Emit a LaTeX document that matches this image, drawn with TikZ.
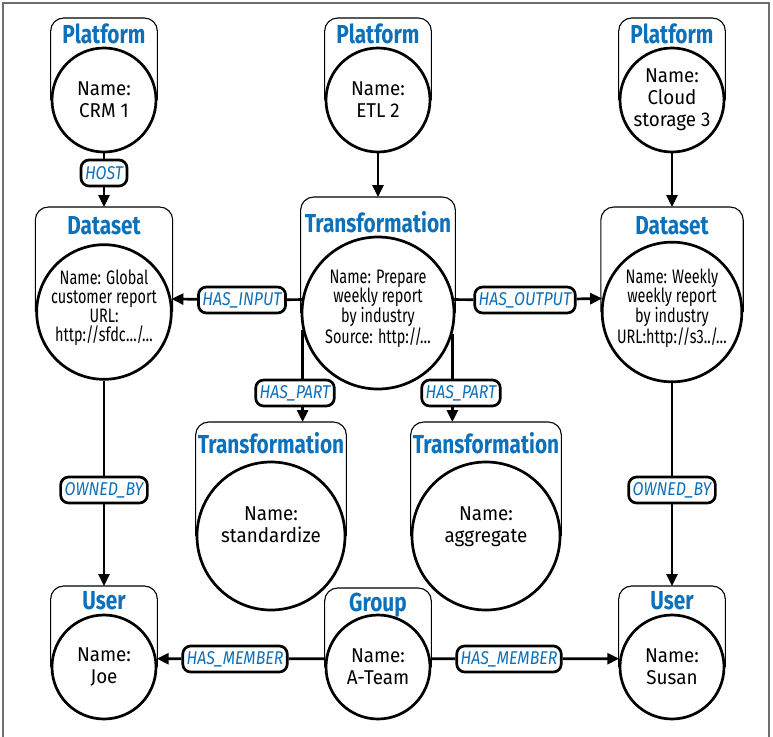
\documentclass[tikz,border=0pt]{standalone}
\usepackage{fontspec}
\setmainfont{Fira Sans}
\newfontfamily\namefont[FakeStretch=0.94]{Fira Sans}
\newfontfamily\infofont[FakeStretch=0.74]{Fira Sans}
\newfontfamily\headfont[FakeStretch=0.8]{Fira Sans}
\newfontfamily\relfont[FakeStretch=0.86]{Fira Sans}
\usetikzlibrary{arrows.meta}
\definecolor{kgblue}{RGB}{12,112,186}
\definecolor{framegray}{RGB}{110,110,110}

\begin{document}
\begin{tikzpicture}[x=1pt,y=-1pt,
    entity/.style={circle,draw,line width=2.7pt,fill=white,inner sep=0pt,align=center,font=\namefont\fontsize{20}{22}\selectfont},
    info/.style={entity,text depth=12pt,font=\infofont\fontsize{19.5}{19}\selectfont},
    card/.style={draw,line width=1.1pt,rounded corners=13pt},
    head/.style={anchor=base,text=kgblue,font=\headfont\bfseries\fontsize{26}{26}\selectfont},
    rel/.style={draw,line width=2.7pt,rounded corners=8pt,fill=white,text=kgblue,minimum height=26pt,inner xsep=4pt,inner ysep=0pt,font=\relfont\itshape\fontsize{18.5}{18.5}\selectfont},
    link/.style={line width=2.7pt},
    arr/.style={link,-{Triangle[length=12pt,width=11pt]}}]
					\useasboundingbox (0,0) rectangle (773,736);
					\draw[framegray,line width=1.2pt] (3,3) rectangle (769,760);
					% platforms
					\node[entity,minimum size=104pt] (crm) at (104,100) {Name:\\CRM 1};
					\node[entity,minimum size=104pt] (etl) at (378,100) {Name:\\ETL 2};
					\node[entity,minimum size=104pt] (cloud) at (672,100) {Name:\\Cloud\\storage 3};
					% datasets and transformations
					\node[info,minimum size=130pt] (dsglobal) at (104,312) {Name: Global\\customer report\\URL:\\http://sfdc…/…};
					\node[info,minimum size=152pt] (prep) at (378,313) {Name: Prepare\\weekly report\\by industry\\Source: http://…};
					\node[info,minimum size=130pt] (dsweekly) at (672,312) {Name: Weekly\\weekly report\\by industry\\URL:http://s3../…};
					\node[entity,text depth=22pt,minimum size=148pt] (std) at (271,536) {Name:\\standardize};
					\node[entity,text depth=22pt,minimum size=148pt] (agg) at (486,536) {Name:\\aggregate};
					% users and group
					\node[entity,minimum size=104pt] (joe) at (104,667) {Name:\\Joe};
					\node[entity,minimum size=104pt] (team) at (378,667) {Name:\\A-Team};
					\node[entity,minimum size=104pt] (susan) at (672,667) {Name:\\Susan};
					% card tops
					\coordinate (crmtop) at (104,18);
					\coordinate (etltop) at (378,18);
					\coordinate (cloudtop) at (672,18);
					\coordinate (dsglobaltop) at (104,207);
					\coordinate (preptop) at (378,197);
					\coordinate (dsweeklytop) at (672,207);
					\coordinate (stdtop) at (271,422);
					\coordinate (aggtop) at (486,422);
					\coordinate (joetop) at (104,586);
					\coordinate (teamtop) at (378,588);
					\coordinate (susantop) at (672,586);
					\draw[card] (crm.west) |- (crmtop) -| (crm.east);
					\draw[card] (etl.west) |- (etltop) -| (etl.east);
					\draw[card] (cloud.west) |- (cloudtop) -| (cloud.east);
					\draw[card] (dsglobal.west) |- (dsglobaltop) -| (dsglobal.east);
					\draw[card] (prep.west) |- (preptop) -| (prep.east);
					\draw[card] (dsweekly.west) |- (dsweeklytop) -| (dsweekly.east);
					\draw[card] (std.west) |- (stdtop) -| (std.east);
					\draw[card] (agg.west) |- (aggtop) -| (agg.east);
					\draw[card] (joe.west) |- (joetop) -| (joe.east);
					\draw[card] (team.west) |- (teamtop) -| (team.east);
					\draw[card] (susan.west) |- (susantop) -| (susan.east);
					% titles
					\node[head] (crmT) at (104,43) {Platform};
					\node[head] (etlT) at (378,43) {Platform};
					\node[head] (cloudT) at (672,43) {Platform};
					\node[head] (dsglobalT) at (104,234) {Dataset};
					\node[head] (prepT) at (378,232) {Transformation};
					\node[head] (dsweeklyT) at (672,234) {Dataset};
					\node[head] (stdT) at (271,453) {Transformation};
					\node[head] (aggT) at (486,453) {Transformation};
					\node[head] (joeT) at (104,609) {User};
					\node[head] (teamT) at (378,611) {Group};
					\node[head] (susanT) at (672,609) {User};
					% relations
					\draw[arr] (etl) -- (preptop);
					\draw[arr] (cloud) -- (dsweeklytop);
					\draw[arr] (prep.193) -- (prep.193 |- stdtop);
					\draw[arr] (prep.344) -- (prep.344 |- aggtop);
					\node[rel] (host) at (104,173) {HOST};
					\node[rel] (hasinput) at (242,300) {HAS\_INPUT};
					\node[rel] (hasoutput) at (525,300) {HAS\_OUTPUT};
					\node[rel] (haspartL) at (295,393) {HAS\_PART};
					\node[rel] (haspartR) at (461,393) {HAS\_PART};
					\node[rel] (ownedL) at (104,490) {OWNED\_BY};
					\node[rel] (ownedR) at (672,490) {OWNED\_BY};
					\node[rel] (hasmemL) at (235,659) {HAS\_MEMBER};
					\node[rel] (hasmemR) at (509,659) {HAS\_MEMBER};
					\draw[link] (crm) -- (host);
					\draw[arr] (host) -- (dsglobaltop);
					\draw[link] (prep.170) -- (hasinput);
					\draw[arr] (hasinput) -- (dsglobal.11);
					\draw[link] (prep.10) -- (hasoutput);
					\draw[arr] (hasoutput) -- (dsweekly.169);
					\draw[link] (dsglobal) -- (ownedL);
					\draw[arr] (ownedL) -- (joetop);
					\draw[link] (dsweekly) -- (ownedR);
					\draw[arr] (ownedR) -- (susantop);
					\draw[link] (team.171) -- (hasmemL);
					\draw[arr] (hasmemL) -- (joe.9);
					\draw[link] (team.9) -- (hasmemR);
					\draw[arr] (hasmemR) -- (susan.171);
				\end{tikzpicture}
\end{document}
